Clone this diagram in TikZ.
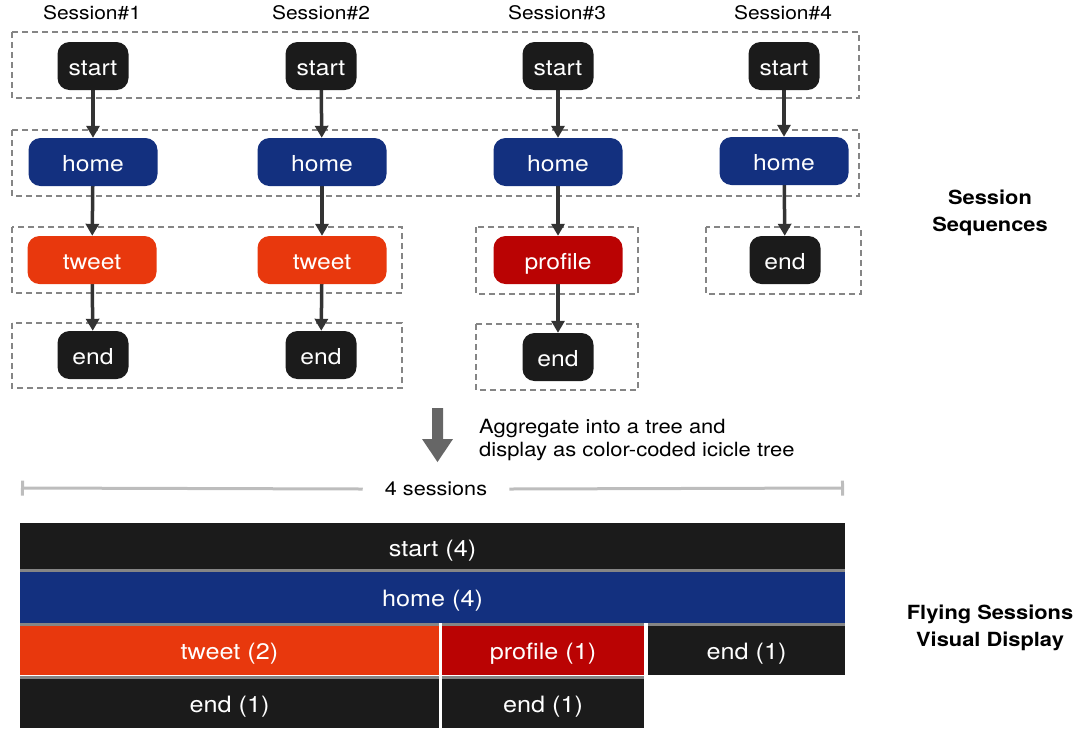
\documentclass[tikz,border=0pt]{standalone}
\usepackage{fontspec}
\setmainfont[FakeStretch=1.12]{TeX Gyre Heros}
\usetikzlibrary{arrows.meta}
\pgfdeclarelayer{edgelayer}
\pgfdeclarelayer{nodelayer}
\pgfsetlayers{edgelayer,nodelayer,main}
\definecolor{evblack}{HTML}{1B1B1B}
\definecolor{evblue}{HTML}{13307F}
\definecolor{evorange}{HTML}{E8380D}
\definecolor{evred}{HTML}{BA0303}
\definecolor{boxgray}{HTML}{858585}
\definecolor{flowgray}{HTML}{333333}
\definecolor{biggray}{HTML}{666666}
\definecolor{rulegray}{HTML}{BDBDBD}
\definecolor{sepgray}{HTML}{858585}
\tikzset{font=\fontsize{18.7}{22}\selectfont}
\tikzstyle{none}=[inner sep=0pt]
\tikzstyle{event}=[rounded corners=12pt,text=white,minimum height=48pt,inner sep=0pt,text height=18pt,text depth=0pt,font=\fontsize{22}{24}\selectfont]
\tikzstyle{short}=[event,minimum width=71pt,fill=evblack]
\tikzstyle{long}=[event,minimum width=129pt]
\tikzstyle{group}=[draw=boxgray,line width=2.4pt,dash pattern=on 6pt off 4pt]
\tikzstyle{flow}=[draw=flowgray,line width=3.5pt,-{Triangle[width=13pt,length=12pt]}]
\tikzstyle{cell}=[inner sep=0pt,outer sep=0pt,text=white,text height=20pt,text depth=0pt,font=\fontsize{22.5}{24}\selectfont]
\tikzstyle{sep}=[draw=sepgray,line width=3pt]
\tikzstyle{rule}=[draw=rulegray,line width=3pt]
\tikzstyle{caption}=[inner sep=0pt,align=center,font=\fontsize{19.5}{27}\selectfont\bfseries]

\begin{document}
\begin{tikzpicture}[x=1pt,y=-1pt]
	\useasboundingbox (0,0) rectangle (1083,732);
	\begin{pgfonlayer}{nodelayer}
		\node [style=none] (sess1) at (92, 13) {Session\#1};
		\node [style=none] (sess2) at (321, 13) {Session\#2};
		\node [style=none] (sess3) at (557, 13) {Session\#3};
		\node [style=none] (sess4) at (783, 13) {Session\#4};
		\node [style=short] (start1) at (93, 66) {start};
		\node [style=short] (start2) at (321, 66) {start};
		\node [style=short] (start3) at (558, 66) {start};
		\node [style=short] (start4) at (784, 66) {start};
		\node [style=long, fill=evblue] (home1) at (93, 162) {home};
		\node [style=long, fill=evblue] (home2) at (322, 162) {home};
		\node [style=long, fill=evblue] (home3) at (558, 162) {home};
		\node [style=long, fill=evblue] (home4) at (784, 161) {home};
		\node [style=long, fill=evorange] (tweet1) at (92, 260) {tweet};
		\node [style=long, fill=evorange] (tweet2) at (322, 260) {tweet};
		\node [style=long, fill=evred] (profile3) at (558, 260) {profile};
		\node [style=short] (end4) at (785, 260) {end};
		\node [style=short] (end1) at (93, 355) {end};
		\node [style=short] (end2) at (321, 355) {end};
		\node [style=short] (end3) at (558, 357) {end};
		\node [style=caption] (seqlabel) at (990, 213) {Session\\Sequences};
		\node [style=none, anchor=west, align=left, font=\fontsize{19.6}{23}\selectfont] (aggr) at (479, 440) {Aggregate into a tree and\\display as color-coded icicle tree};
		\node [style=none, inner xsep=22pt, font=\fontsize{19.3}{22}\selectfont] (total) at (436, 489) {4 sessions};
		\coordinate (totall) at (21, 488);
		\coordinate (totalr) at (844, 488);
		\node [style=cell, fill=evblack, minimum width=825pt, minimum height=46pt] (startbar) at (432.5, 546) {start (4)};
		\node [style=cell, fill=evblue, minimum width=825pt, minimum height=54pt] (homebar) at (432.5, 596) {home (4)};
		\node [style=cell, fill=evorange, minimum width=419pt, minimum height=52pt] (tweetbar) at (229.5, 649) {tweet (2)};
		\node [style=cell, fill=evred, minimum width=202pt, minimum height=52pt] (profilebar) at (543, 649) {profile (1)};
		\node [style=cell, fill=evblack, minimum width=197pt, minimum height=52pt] (endbarc) at (746.5, 649) {end (1)};
		\node [style=cell, fill=evblack, minimum width=419pt, minimum height=52pt] (endbara) at (229.5, 702) {end (1)};
		\node [style=cell, fill=evblack, minimum width=202pt, minimum height=52pt] (endbarb) at (543, 702) {end (1)};
		\node [style=caption] (flylabel) at (990, 628) {Flying Sessions\\Visual Display};
	\end{pgfonlayer}
	\begin{pgfonlayer}{edgelayer}
		% step groups
		\draw [style=group] (12, 32) rectangle (859, 98);
		\draw [style=group] (12, 130) rectangle (859, 196);
		\draw [style=group] (12, 227) rectangle (402, 293);
		\draw [style=group] (476, 227) rectangle (638, 294);
		\draw [style=group] (706, 227) rectangle (861, 294);
		\draw [style=group] (12, 323) rectangle (402, 388);
		\draw [style=group] (476, 324) rectangle (638, 390);
		% sequences
		\draw [style=flow] (start1) to (home1);
		\draw [style=flow] (home1) to (tweet1);
		\draw [style=flow] (tweet1) to (end1);
		\draw [style=flow] (start2) to (home2);
		\draw [style=flow] (home2) to (tweet2);
		\draw [style=flow] (tweet2) to (end2);
		\draw [style=flow] (start3) to (home3);
		\draw [style=flow] (home3) to (profile3);
		\draw [style=flow] (profile3) to (end3);
		\draw [style=flow] (start4) to (home4);
		\draw [style=flow] (home4) to (end4);
	\end{pgfonlayer}
	% aggregate arrow
	\fill [biggray] (432, 408) -- (443, 408) -- (443, 439) -- (453, 439) -- (437.5, 462) -- (422, 439) -- (432, 439) -- cycle;
	\draw [style=rule, {Bar[width=15pt]}-] (totall) to (total.west);
	\draw [style=rule, -{Bar[width=15pt]}] (total.east) to (totalr);
	% icicle separators
	\draw [style=sep] ([yshift=-1.5pt]homebar.north west) to ([yshift=-1.5pt]homebar.north east);
	\draw [style=sep] ([yshift=-1.5pt]tweetbar.north west) to ([yshift=-1.5pt]tweetbar.north east);
	\draw [style=sep] ([yshift=-1.5pt]profilebar.north west) to ([yshift=-1.5pt]profilebar.north east);
	\draw [style=sep] ([yshift=-1.5pt]endbarc.north west) to ([yshift=-1.5pt]endbarc.north east);
	\draw [style=sep] ([yshift=-1.5pt]endbara.north west) to ([yshift=-1.5pt]endbara.north east);
	\draw [style=sep] ([yshift=-1.5pt]endbarb.north west) to ([yshift=-1.5pt]endbarb.north east);
\end{tikzpicture}
\end{document}
